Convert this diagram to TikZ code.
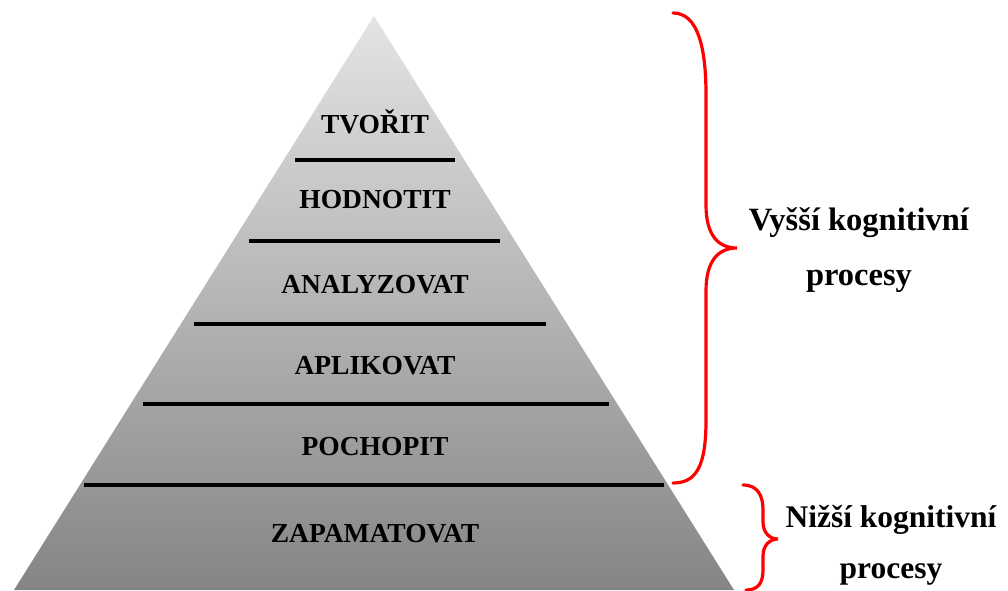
\documentclass[tikz,border=0pt]{standalone}
\usepackage{fontspec}
\setmainfont{Liberation Serif}
\begin{document}
\begin{tikzpicture}[x=1pt,y=-1pt,
  level/.style={font=\fontsize{27.5}{30}\selectfont\bfseries, anchor=base, inner sep=0pt},
  side/.style={font=\fontsize{32.5}{36}\selectfont\bfseries, anchor=base, inner sep=0pt},
  sidelow/.style={font=\fontsize{31.5}{36}\selectfont\bfseries, anchor=base, inner sep=0pt},
  divider/.style={line width=4pt, black},
  brace/.style={draw=red, line width=3.2pt, line cap=round}]
\useasboundingbox (0,0) rectangle (1008,590);
% pyramid with vertical gradient
\begin{scope}
  \clip (374,16) -- (734,590) -- (14,590) -- cycle;
  \shade[top color={rgb,255:red,228;green,228;blue,228}, bottom color={rgb,255:red,133;green,133;blue,133}] (0,16) rectangle (1008,590);
\end{scope}
% divider lines
\draw[divider] (295,160) -- (455,160);
\draw[divider] (249,241) -- (500,241);
\draw[divider] (194,324) -- (546,324);
\draw[divider] (143,404) -- (609,404);
\draw[divider] (84,485) -- (664,485);
% level labels
\node[level] (l6) at (375,133) {TVOŘIT};
\node[level] (l5) at (375,208) {HODNOTIT};
\node[level] (l4) at (375,293) {ANALYZOVAT};
\node[level] (l3) at (375,374) {APLIKOVAT};
\node[level] (l2) at (375,455) {POCHOPIT};
\node[level] (l1) at (375,542) {ZAPAMATOVAT};
% big brace
\draw[brace] (673,13) .. controls (697,13) and (706,45) .. (706,95)
  -- (706,205) .. controls (706,235) and (718,248) .. (737,248)
  .. controls (718,248) and (706,261) .. (706,291)
  -- (706,420) .. controls (706,465) and (697,483) .. (673,483);
% small brace
\draw[brace] (743,485) .. controls (758,485) and (763,496) .. (763,510)
  -- (763,522) .. controls (763,532) and (769,539) .. (778,539)
  .. controls (769,539) and (763,546) .. (763,556)
  -- (763,570) .. controls (763,583) and (758,590) .. (746,590);
% side labels
\node[side] (h1) at (859,230) {Vyšší kognitivní};
\node[side] (h2) at (859,285) {procesy};
\node[sidelow] (n1) at (891,527) {Nižší kognitivní};
\node[sidelow] (n2) at (891,578) {procesy};
\end{tikzpicture}
\end{document}
